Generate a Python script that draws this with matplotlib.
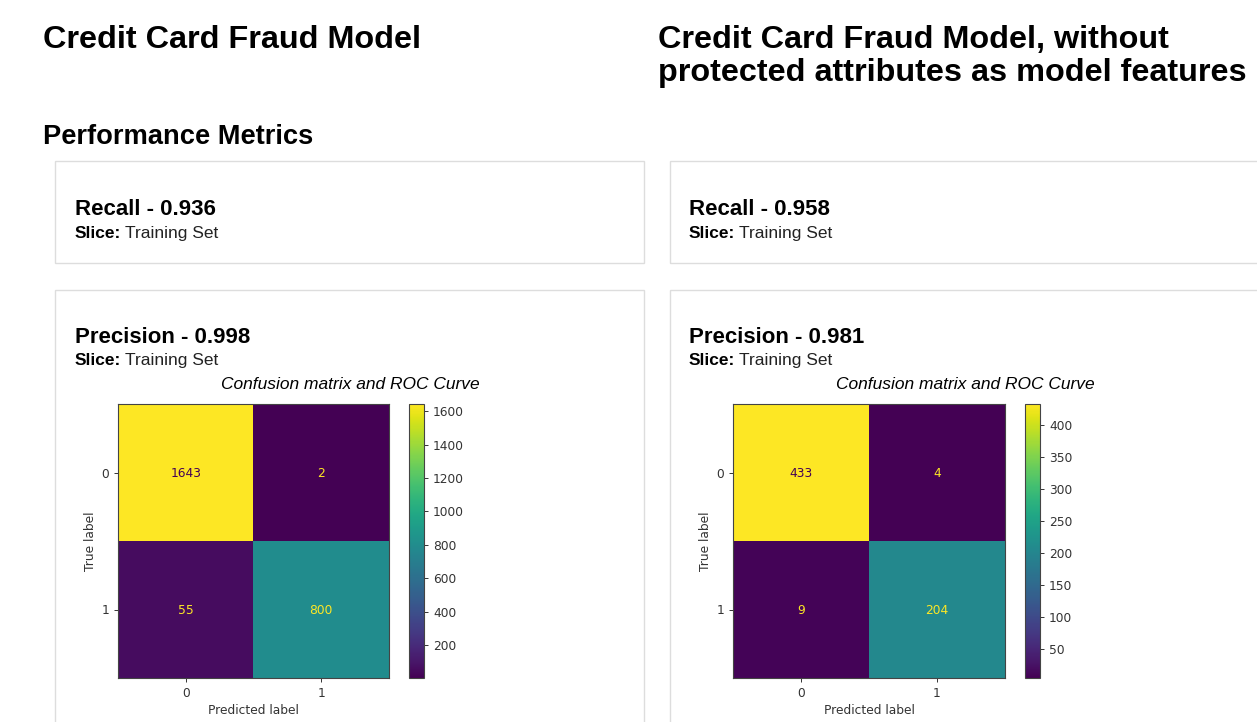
import matplotlib
matplotlib.use("Agg")
import matplotlib.pyplot as plt
import matplotlib.patches as patches
from matplotlib.ticker import MultipleLocator
import numpy as np

# ---------------- data ----------------
left_title = ["Credit Card Fraud Model"]
right_title = ["Credit Card Fraud Model, without", "protected attributes as model features"]
section_title = "Performance Metrics"
left_recall = 0.936
left_precision = 0.998
right_recall = 0.958
right_precision = 0.981
slice_name = "Training Set"
plot_title = "Confusion matrix and ROC Curve"
class_labels = ["0", "1"]
cm_left = [[1643, 2], [55, 800]]
cm_right = [[433, 4], [9, 204]]
cbar_step_left = 200
cbar_step_right = 50

# ---------------- layout helpers ----------------
W, H = 1257, 722
fig = plt.figure(figsize=(W / 100, H / 100), dpi=100)
fig.patch.set_facecolor("white")

def fx(x):
    return x / W

def fy(y):
    return 1 - y / H

def add_ax(x0, y0, x1, y1):
    return fig.add_axes([fx(x0), fy(y1), (x1 - x0) / W, (y1 - y0) / H])

SANS = ["Liberation Sans", "DejaVu Sans"]
TXT = "#222222"

def box(x0, y0, x1, y1):
    r = patches.Rectangle((fx(x0), fy(y1)), (x1 - x0) / W, (y1 - y0) / H,
                          transform=fig.transFigure, fill=False,
                          edgecolor="#dddddd", linewidth=1.0, zorder=0)
    fig.add_artist(r)

def txt(x, y, s, size, weight="normal", style="normal", ha="left", color="black"):
    return fig.text(fx(x), fy(y), s, fontsize=size, fontweight=weight, fontstyle=style,
                    family=SANS, ha=ha, va="baseline", color=color)

renderer = fig.canvas.get_renderer()

def slice_line(x, y):
    t = txt(x, y, "Slice:", 12.5, weight="bold")
    bb = t.get_window_extent(renderer=renderer)
    txt(bb.x1 + 3.5, y, slice_name, 12.5, color=TXT)

# ---------------- headings ----------------
txt(43, 48, left_title[0], 23.35, weight="bold")
txt(658, 48, right_title[0], 23.35, weight="bold")
txt(658, 81, right_title[1], 23.35, weight="bold")
txt(43, 144, section_title, 19.6, weight="bold")

# ---------------- boxes ----------------
box(55, 161, 644, 263)
box(55, 290, 644, 735)
box(670, 161, 1270, 263)
box(670, 290, 1270, 735)

for (bx, rec, prec) in [(75, left_recall, left_precision), (689, right_recall, right_precision)]:
    txt(bx, 215, f"Recall - {rec:.3f}", 16, weight="bold")
    slice_line(bx, 238)
    txt(bx, 343, f"Precision - {prec:.3f}", 16, weight="bold")
    slice_line(bx, 365)

# ---------------- confusion matrices ----------------
FS = 8.8
LAB = "#333333"

def draw_cm(cm, ax_box, cax_box, title_x, step):
    cm = np.array(cm)
    ax = add_ax(*ax_box)
    cmap = plt.get_cmap("viridis")
    im = ax.imshow(cm, cmap=cmap, aspect="auto", interpolation="nearest")
    thresh = (cm.max() + cm.min()) / 2.0
    for i in range(cm.shape[0]):
        for j in range(cm.shape[1]):
            c = cmap(1.0) if cm[i, j] < thresh else cmap(0.0)
            ax.text(j, i + 0.01, str(cm[i, j]), ha="center", va="center", color=c,
                    fontsize=FS, family="DejaVu Sans")
    ax.set_xticks(range(len(class_labels)))
    ax.set_yticks(range(len(class_labels)))
    ax.set_xticklabels(class_labels)
    ax.set_yticklabels(class_labels)
    ax.tick_params(labelsize=FS, length=3, width=0.7, colors=LAB, labelcolor=LAB)
    ax.set_xlabel("Predicted label", fontsize=FS, color=LAB, family="DejaVu Sans", labelpad=3)
    ax.set_ylabel("True label", fontsize=FS, color=LAB, family="DejaVu Sans", labelpad=3)
    for sp in ax.spines.values():
        sp.set_color("#444444")
        sp.set_linewidth(0.8)
    cax = add_ax(*cax_box)
    cb = fig.colorbar(im, cax=cax)
    cb.ax.yaxis.set_major_locator(MultipleLocator(step))
    cb.ax.tick_params(labelsize=FS, length=3, width=0.7, colors=LAB, labelcolor=LAB)
    cb.outline.set_edgecolor("#444444")
    cb.outline.set_linewidth(0.8)
    fig.text(fx(title_x), fy(389), plot_title, fontsize=12.5, fontstyle="italic",
             family=SANS, ha="center", va="baseline", color="black")

draw_cm(cm_left, (118, 404, 389, 678), (409, 404, 424, 678), 350, cbar_step_left)
draw_cm(cm_right, (733, 404, 1005, 678), (1025, 404, 1040, 678), 965, cbar_step_right)

fig.savefig("out.png", dpi=100, facecolor="white")
